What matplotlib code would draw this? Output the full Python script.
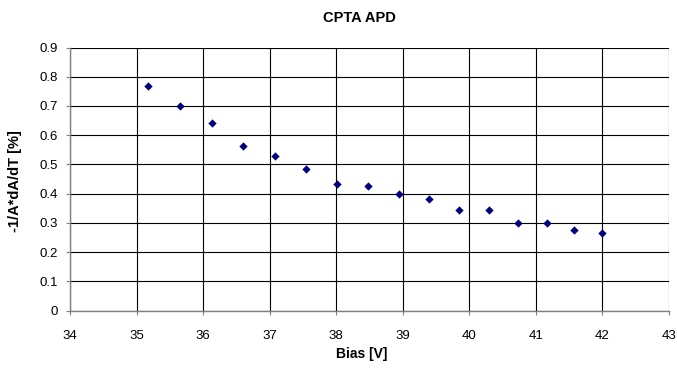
import matplotlib.pyplot as plt

plt.rcParams['font.family'] = ['Liberation Sans', 'DejaVu Sans']

# Data
bias = [35.17, 35.65, 36.14, 36.60, 37.08, 37.55, 38.01, 38.48, 38.94,
        39.39, 39.84, 40.29, 40.73, 41.16, 41.58, 42.00]
slope = [0.767, 0.700, 0.641, 0.564, 0.527, 0.484, 0.432, 0.425, 0.397,
         0.382, 0.343, 0.344, 0.301, 0.301, 0.276, 0.266]

x_ticks = list(range(34, 44))
y_ticks = [0, 0.1, 0.2, 0.3, 0.4, 0.5, 0.6, 0.7, 0.8, 0.9]
y_labels = ['0', '0.1', '0.2', '0.3', '0.4', '0.5', '0.6', '0.7', '0.8', '0.9']

fig = plt.figure(figsize=(6.77, 3.70), dpi=100)
ax = fig.add_axes([70 / 677, 1 - 310.5 / 370, 599 / 677, 263 / 370])

ax.scatter(bias, slope, marker='D', s=18, color='#000080', zorder=3,
           linewidths=0)

ax.set_xlim(34, 43)
ax.set_ylim(0, 0.9)
ax.set_xticks(x_ticks)
ax.set_yticks(y_ticks)
ax.set_yticklabels(y_labels)
ax.grid(True, color='black', linewidth=0.8)
ax.set_axisbelow(True)

for side in ['top', 'right']:
    ax.spines[side].set_visible(False)
for side in ['left', 'bottom']:
    ax.spines[side].set_color('#808080')
    ax.spines[side].set_linewidth(1.0)

ax.tick_params(axis='both', labelsize=9.5, length=3, width=0.8,
               color='#808080', direction='out')
ax.tick_params(axis='x', pad=11)
ax.tick_params(axis='y', pad=6)

fig.text(359 / 677, 1 - 18 / 370, 'CPTA APD', ha='center', va='center',
         fontsize=10.5, fontweight='bold')
fig.text(362 / 677, 1 - 354 / 370, 'Bias [V]', ha='center', va='center',
         fontsize=10, fontweight='bold')
fig.text(15 / 677, 1 - 181 / 370, '-1/A*dA/dT [%]', ha='center',
         va='center', rotation=90, fontsize=10.5, fontweight='bold')

fig.savefig('out.png', dpi=100)
